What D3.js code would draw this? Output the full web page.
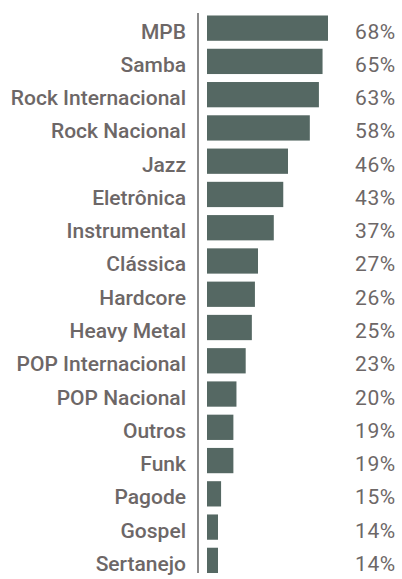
<!DOCTYPE html>
<html>
<head>
<meta charset="utf-8">
<script src="https://cdn.jsdelivr.net/npm/d3@7"></script>
<style>
  body { margin: 0; background: #fff; }
  svg { display: block; }
  .label { font-family: Roboto, 'Liberation Sans', sans-serif; font-weight: 500; font-size: 21px; fill: #6d6767; }
  .value { font-family: Roboto, 'Liberation Sans', sans-serif; font-weight: 400; font-size: 21px; letter-spacing: 0.6px; fill: #6d6767; }
</style>
</head>
<body>
<div id="chart"></div>
<script>
const genres = ['MPB', 'Samba', 'Rock Internacional', 'Rock Nacional', 'Jazz', 'Eletrônica',
  'Instrumental', 'Clássica', 'Hardcore', 'Heavy Metal', 'POP Internacional', 'POP Nacional',
  'Outros', 'Funk', 'Pagode', 'Gospel', 'Sertanejo']
const percents = [68, 65, 63, 58, 46, 43, 37, 27, 26, 25, 23, 20, 19, 19, 15, 14, 14]

const width = 402,
  height = 579

const data = genres.map((g, i) => ({ genre: g, value: percents[i] }))

const svg = d3.select('#chart')
              .append('svg')
              .attr('width', width)
              .attr('height', height)

const y = d3.scaleBand()
            .domain(genres)
            .range([11.5, 577])
            .paddingInner(0.24)
            .paddingOuter(0.12)

// the original bars are not drawn to a single linear scale,
// so use a piecewise scale that follows the picture
const x = d3.scaleLinear()
            .domain([14, 27, 46, 68])
            .range([218, 258, 288, 328])

const x0 = 207

svg.selectAll('rect.bar')
   .data(data)
   .enter()
   .append('rect')
   .attr('class', 'bar')
   .attr('x', x0)
   .attr('y', d => y(d.genre))
   .attr('width', d => x(d.value) - x0)
   .attr('height', y.bandwidth())
   .style('fill', '#556863')

svg.append('line')
   .attr('x1', 198)
   .attr('x2', 198)
   .attr('y1', 13)
   .attr('y2', 573)
   .style('stroke', '#8a8a8a')
   .style('stroke-width', 2)

svg.selectAll('text.label')
   .data(data)
   .enter()
   .append('text')
   .attr('class', 'label')
   .attr('x', 186)
   .attr('y', d => y(d.genre) + y.bandwidth() / 2)
   .attr('dy', '0.5em')
   .attr('text-anchor', 'end')
   .text(d => d.genre)

svg.selectAll('text.value')
   .data(data)
   .enter()
   .append('text')
   .attr('class', 'value')
   .attr('x', 355)
   .attr('y', d => y(d.genre) + y.bandwidth() / 2)
   .attr('dy', '0.5em')
   .text(d => d.value + '%')
</script>
</body>
</html>
